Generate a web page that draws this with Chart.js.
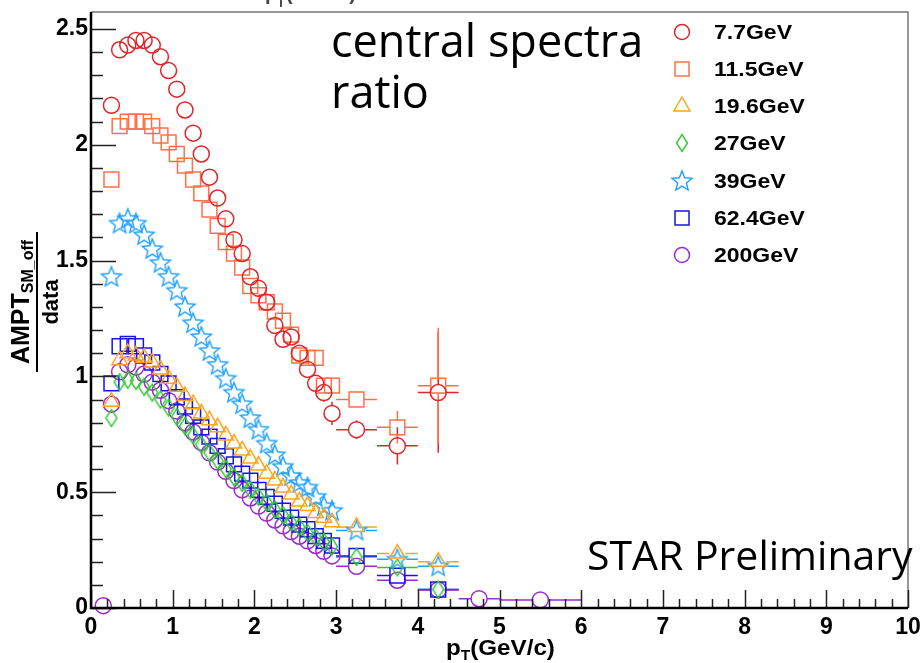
<!DOCTYPE html>
<html>
<head>
<meta charset="utf-8">
<script src="https://cdn.jsdelivr.net/npm/chart.js@4.4.1/dist/chart.umd.min.js"></script>
<style>
  html, body { margin: 0; padding: 0; background: #fff; }
</style>
</head>
<body>
<canvas id="c" width="922" height="663"></canvas>
<script>
// pT bin centres (GeV/c) and half widths
const pt = [0.25, 0.35, 0.45, 0.55, 0.65, 0.75, 0.85, 0.95, 1.05, 1.15, 1.25, 1.35, 1.45, 1.55, 1.65,
  1.75, 1.85, 1.95, 2.05, 2.15, 2.25, 2.35, 2.45, 2.55, 2.65, 2.75, 2.85, 2.95, 3.25, 3.75, 4.25];
const ptHalf = [0.05, 0.05, 0.05, 0.05, 0.05, 0.05, 0.05, 0.05, 0.05, 0.05, 0.05, 0.05, 0.05, 0.05, 0.05,
  0.05, 0.05, 0.05, 0.05, 0.05, 0.05, 0.05, 0.05, 0.05, 0.05, 0.05, 0.05, 0.05, 0.25, 0.25, 0.25];
const pt200 = [0.15, 0.25, 0.35, 0.45, 0.55, 0.65, 0.75, 0.85, 0.95, 1.05, 1.15, 1.25, 1.35, 1.45, 1.55, 1.65,
  1.75, 1.85, 1.95, 2.05, 2.15, 2.25, 2.35, 2.45, 2.55, 2.65, 2.75, 2.85, 2.95, 3.25, 3.75, 4.25, 4.75, 5.5];
const ptHalf200 = [0.05, 0.05, 0.05, 0.05, 0.05, 0.05, 0.05, 0.05, 0.05, 0.05, 0.05, 0.05, 0.05, 0.05, 0.05, 0.05,
  0.05, 0.05, 0.05, 0.05, 0.05, 0.05, 0.05, 0.05, 0.05, 0.05, 0.05, 0.05, 0.05, 0.25, 0.25, 0.25, 0.25, 0.5];

// ratio AMPT / data per energy
const r7 = [2.17, 2.41, 2.43, 2.45, 2.45, 2.43, 2.38, 2.32, 2.24, 2.15, 2.05, 1.96, 1.86, 1.77, 1.68,
  1.59, 1.53, 1.43, 1.38, 1.32, 1.22, 1.16, 1.17, 1.10, 1.03, 0.97, 0.93, 0.84, 0.77, 0.70, 0.93];
const e7 = [0, 0, 0, 0, 0, 0, 0, 0, 0, 0, 0, 0, 0, 0, 0,
  0, 0, 0, 0, 0, 0, 0, 0, 0, 0, 0.03, 0.04, 0.05, 0.04, 0.08, 0.26];
const r11 = [1.85, 2.08, 2.10, 2.10, 2.10, 2.08, 2.04, 2.01, 1.96, 1.91, 1.85, 1.79, 1.72, 1.65, 1.58,
  1.53, 1.47, 1.39, 1.35, 1.32, 1.28, 1.24, 1.18, 1.09, 1.08, 1.08, 0.96, 0.96, 0.90, 0.78, 0.96];
const e11 = [0, 0, 0, 0, 0, 0, 0, 0, 0, 0, 0, 0, 0, 0, 0,
  0, 0, 0, 0, 0, 0, 0, 0, 0, 0, 0, 0.03, 0.03, 0.03, 0.07, 0.25];
const r19 = [0.89, 1.07, 1.10, 1.09, 1.08, 1.06, 1.03, 0.99, 0.955, 0.915, 0.88, 0.84, 0.81, 0.78, 0.745,
  0.71, 0.68, 0.645, 0.615, 0.58, 0.55, 0.52, 0.49, 0.46, 0.44, 0.41, 0.39, 0.37, 0.35, 0.235, 0.20];
const e19 = [0, 0, 0, 0, 0, 0, 0, 0, 0, 0, 0, 0, 0, 0, 0,
  0, 0, 0, 0, 0, 0, 0, 0, 0, 0, 0, 0, 0, 0, 0.02, 0.02];
const r27 = [0.82, 0.975, 0.985, 0.98, 0.955, 0.93, 0.90, 0.865, 0.825, 0.785, 0.745, 0.705, 0.67, 0.635, 0.60,
  0.565, 0.54, 0.51, 0.48, 0.455, 0.425, 0.40, 0.37, 0.35, 0.325, 0.305, 0.285, 0.265, 0.22, 0.175, 0.08];
const e27 = [0, 0, 0, 0, 0, 0, 0, 0, 0, 0, 0, 0, 0, 0, 0,
  0, 0, 0, 0, 0, 0, 0, 0, 0, 0, 0, 0, 0, 0, 0.02, 0.02];
const r39 = [1.43, 1.66, 1.68, 1.66, 1.61, 1.55, 1.49, 1.43, 1.37, 1.30, 1.23, 1.17, 1.11, 1.05, 0.99,
  0.93, 0.88, 0.82, 0.77, 0.71, 0.66, 0.61, 0.57, 0.54, 0.52, 0.48, 0.44, 0.42, 0.335, 0.21, 0.18];
const e39 = [0, 0, 0, 0, 0, 0, 0, 0, 0, 0, 0, 0, 0, 0, 0,
  0, 0, 0, 0, 0, 0, 0, 0, 0, 0, 0, 0, 0, 0, 0.02, 0.02];
const r62 = [0.97, 1.13, 1.14, 1.13, 1.09, 1.06, 1.01, 0.97, 0.91, 0.87, 0.83, 0.78, 0.74, 0.70, 0.655,
  0.62, 0.58, 0.55, 0.51, 0.48, 0.45, 0.42, 0.39, 0.36, 0.34, 0.31, 0.29, 0.27, 0.225, 0.14, 0.08];
const e62 = [0, 0, 0, 0, 0, 0, 0, 0, 0, 0, 0, 0, 0, 0, 0,
  0, 0, 0, 0, 0, 0, 0, 0, 0, 0, 0, 0, 0, 0, 0, 0];
const r200 = [0.01, 0.88, 1.02, 1.05, 1.04, 1.01, 0.975, 0.94, 0.895, 0.85, 0.80, 0.76, 0.715, 0.67, 0.63, 0.59,
  0.55, 0.51, 0.475, 0.44, 0.41, 0.38, 0.355, 0.33, 0.31, 0.29, 0.27, 0.245, 0.225, 0.18, 0.12, 0.078, 0.04, 0.035];
const e200 = [0, 0, 0, 0, 0, 0, 0, 0, 0, 0, 0, 0, 0, 0, 0, 0,
  0, 0, 0, 0, 0, 0, 0, 0, 0, 0, 0, 0, 0, 0, 0, 0, 0, 0];

const labels = ['7.7GeV', '11.5GeV', '19.6GeV', '27GeV', '39GeV', '62.4GeV', '200GeV'];

const BOLD = '"Liberation Sans", Arial, sans-serif';
const SANS = '"Open Sans", "Noto Sans", sans-serif';

// open star and narrow diamond markers (ROOT style)
function starMarker(color) {
  const c = document.createElement('canvas');
  c.width = 24; c.height = 24;
  const g = c.getContext('2d');
  g.strokeStyle = color; g.lineWidth = 1.4;
  g.beginPath();
  for (let i = 0; i < 10; i++) {
    const r = i % 2 ? 4.6 : 10.5;
    const a = -Math.PI / 2 + i * Math.PI / 5;
    const px = 12 + r * Math.cos(a), py = 12.5 + r * Math.sin(a);
    i ? g.lineTo(px, py) : g.moveTo(px, py);
  }
  g.closePath(); g.stroke();
  return c;
}
function diamondMarker(color) {
  const c = document.createElement('canvas');
  c.width = 14; c.height = 20;
  const g = c.getContext('2d');
  g.strokeStyle = color; g.lineWidth = 1.4;
  g.beginPath();
  g.moveTo(7, 1.5); g.lineTo(12.5, 10); g.lineTo(7, 18.5); g.lineTo(1.5, 10);
  g.closePath(); g.stroke();
  return c;
}

const colors = ['rgb(222,38,42)', 'rgb(255,112,72)', 'rgb(255,165,30)', 'rgb(50,200,50)',
  'rgb(30,160,255)', 'rgb(20,20,230)', 'rgb(155,45,205)'];

function series(i, xs, ys, ex, ey, style, radius, gap) {
  return {
    label: labels[i],
    data: xs.map((x, k) => ({ x, y: ys[k] })),
    errX: ex, errY: ey, gap,
    pointStyle: style,
    pointRadius: radius, pointHoverRadius: radius,
    borderColor: colors[i], backgroundColor: 'rgba(0,0,0,0)',
    pointBorderWidth: 1.5, clip: false
  };
}

const datasets = [
  series(0, pt, r7, ptHalf, e7, 'circle', 8, 8),
  series(1, pt, r11, ptHalf, e11, 'rect', 10.5, 7.5),
  series(2, pt, r19, ptHalf, e19, 'triangle', 9, 8),
  series(3, pt, r27, ptHalf, e27, diamondMarker(colors[3]), 8, 6),
  series(4, pt, r39, ptHalf, e39, starMarker(colors[4]), 10, 9),
  series(5, pt, r62, ptHalf, e62, 'rect', 10.5, 7.5),
  series(6, pt200, r200, ptHalf200, e200, 'circle', 8, 8)
];

// bin-width and error bars, drawn outside the marker
const errorBars = {
  id: 'errorBars',
  beforeDatasetsDraw(chart) {
    const { ctx, scales: { x, y } } = chart;
    chart.data.datasets.forEach(ds => {
      ctx.save();
      ctx.strokeStyle = ds.borderColor;
      ctx.lineWidth = 1.5;
      ctx.beginPath();
      ds.data.forEach((p, k) => {
        const px = x.getPixelForValue(p.x), py = y.getPixelForValue(p.y);
        const x0 = x.getPixelForValue(p.x - ds.errX[k]), x1 = x.getPixelForValue(p.x + ds.errX[k]);
        if (px - x0 > ds.gap) {
          ctx.moveTo(x0, py); ctx.lineTo(px - ds.gap, py);
          ctx.moveTo(px + ds.gap, py); ctx.lineTo(x1, py);
        }
        const ey = ds.errY[k];
        if (ey) {
          const y0 = y.getPixelForValue(p.y + ey), y1 = y.getPixelForValue(p.y - ey);
          if (py - y0 > ds.gap) {
            ctx.moveTo(px, y0); ctx.lineTo(px, py - ds.gap);
            ctx.moveTo(px, py + ds.gap); ctx.lineTo(px, y1);
          }
        }
      });
      ctx.stroke();
      ctx.restore();
    });
  }
};

function marker(ctx, ds, cx, cy) {
  const s = ds.pointStyle;
  ctx.save();
  ctx.strokeStyle = ds.borderColor;
  ctx.lineWidth = 1.5;
  ctx.beginPath();
  if (s === 'circle') {
    ctx.arc(cx, cy, 7.5, 0, Math.PI * 2);
  } else if (s === 'rect') {
    ctx.rect(cx - 7, cy - 7, 14, 14);
  } else if (s === 'triangle') {
    ctx.moveTo(cx, cy - 9); ctx.lineTo(cx + 8, cy + 5); ctx.lineTo(cx - 8, cy + 5); ctx.closePath();
  } else {
    ctx.drawImage(s, cx - s.width / 2, cy - s.height / 2);
  }
  ctx.stroke();
  ctx.restore();
}

function wideText(ctx, text, x, y, sx) {
  ctx.save();
  ctx.translate(x, y);
  ctx.scale(sx, 1);
  ctx.fillText(text, 0, 0);
  ctx.restore();
}

// ROOT-like frame, inward ticks, titles, legend and captions
const frame = {
  id: 'frame',
  afterDraw(chart) {
    const { ctx, chartArea: a, scales: { x, y } } = chart;
    ctx.save();
    ctx.strokeStyle = '#777';
    ctx.lineWidth = 1.5;
    ctx.beginPath();
    ctx.moveTo(a.left, a.top); ctx.lineTo(a.right, a.top); ctx.lineTo(a.right, a.bottom);
    ctx.stroke();

    ctx.strokeStyle = '#222';
    ctx.lineWidth = 1.5;
    ctx.beginPath();
    for (let v = 0; v <= 25; v++) {
      const py = Math.round(y.getPixelForValue(v / 10)) + 0.5;
      ctx.moveTo(a.left, py); ctx.lineTo(a.left + (v % 5 ? 12 : 25), py);
    }
    for (let v = 0; v <= 50; v++) {
      const px = Math.round(x.getPixelForValue(v / 5)) + 0.5;
      ctx.moveTo(px, a.bottom); ctx.lineTo(px, a.bottom - (v % 5 ? 9 : 18));
    }
    ctx.stroke();

    ctx.strokeStyle = '#000';
    ctx.lineWidth = 2.5;
    ctx.beginPath();
    ctx.moveTo(a.left, a.top); ctx.lineTo(a.left, a.bottom); ctx.lineTo(a.right, a.bottom);
    ctx.stroke();

    ctx.fillStyle = '#000';
    ctx.textBaseline = 'alphabetic';

    // x title
    ctx.font = 'bold 22px ' + BOLD;
    let w = ctx.measureText('p').width * 1.1;
    wideText(ctx, 'p', 446, 655, 1.1);
    ctx.font = 'bold 14px ' + BOLD;
    wideText(ctx, 'T', 446 + w, 660, 1.1);
    w += ctx.measureText('T').width * 1.1;
    ctx.font = 'bold 22px ' + BOLD;
    wideText(ctx, '(GeV/c)', 446 + w, 655, 1.1);

    // clipped title of the panel above
    ctx.fillStyle = '#444';
    ctx.font = 'bold 20px ' + BOLD;
    ctx.fillText('p', 265, 0);
    ctx.font = 'bold 13px ' + BOLD;
    ctx.fillText('T', 277, 7);
    ctx.font = 'bold 20px ' + BOLD;
    ctx.fillText('(GeV/c)', 286, 0);
    ctx.fillStyle = '#000';

    // y title as fraction
    ctx.save();
    ctx.translate(37, 302);
    ctx.rotate(-Math.PI / 2);
    ctx.fillRect(-70, -1, 140, 2);
    ctx.font = 'bold 25px ' + BOLD;
    const wa = ctx.measureText('AMPT').width;
    ctx.font = 'bold 16px ' + BOLD;
    const wb = ctx.measureText('SM_off').width;
    const x0 = -(wa + wb) / 2;
    ctx.font = 'bold 25px ' + BOLD;
    ctx.fillText('AMPT', x0, -8);
    ctx.font = 'bold 16px ' + BOLD;
    ctx.fillText('SM_off', x0 + wa, -4);
    ctx.font = 'bold 22px ' + BOLD;
    ctx.textAlign = 'center';
    ctx.fillText('data', 0, 21);
    ctx.restore();

    // captions
    ctx.font = '45px ' + SANS;
    ctx.fillText('central spectra', 331, 57);
    ctx.fillText('ratio', 331, 108);
    ctx.font = '41px ' + SANS;
    ctx.fillText('STAR Preliminary', 587, 570);

    // legend
    const rows = [32, 69, 106, 143, 181, 218, 255];
    ctx.font = 'bold 20px ' + BOLD;
    ctx.textBaseline = 'middle';
    chart.data.datasets.forEach((ds, i) => {
      marker(ctx, ds, 682, rows[i]);
      wideText(ctx, ds.label, 714, rows[i] + 1, 1.15);
    });
    ctx.restore();
  }
};

const tickFont = { family: BOLD, weight: 'bold', size: 23 };

new Chart(document.getElementById('c'), {
  type: 'scatter',
  data: { datasets },
  options: {
    responsive: false,
    animation: false,
    layout: { padding: { left: 0, top: 11, right: 14, bottom: 0 } },
    plugins: { legend: { display: false }, tooltip: { enabled: false } },
    scales: {
      x: {
        type: 'linear', min: 0, max: 10,
        afterFit: s => { s.height = 55; s.paddingLeft = 0; s.paddingRight = 0; },
        grid: { display: false, drawTicks: false },
        border: { display: false },
        ticks: { stepSize: 1, includeBounds: false, padding: 6, color: '#000',
          font: tickFont, maxRotation: 0, autoSkip: false, callback: v => String(v) }
      },
      y: {
        type: 'linear', min: 0, max: 2.573,
        afterFit: s => { s.width = 91; s.paddingTop = 0; s.paddingBottom = 0; },
        grid: { display: false, drawTicks: false },
        border: { display: false },
        ticks: { stepSize: 0.5, includeBounds: false, padding: 3, color: '#000',
          font: tickFont, callback: v => String(v) }
      }
    }
  },
  plugins: [errorBars, frame]
});
</script>
</body>
</html>
